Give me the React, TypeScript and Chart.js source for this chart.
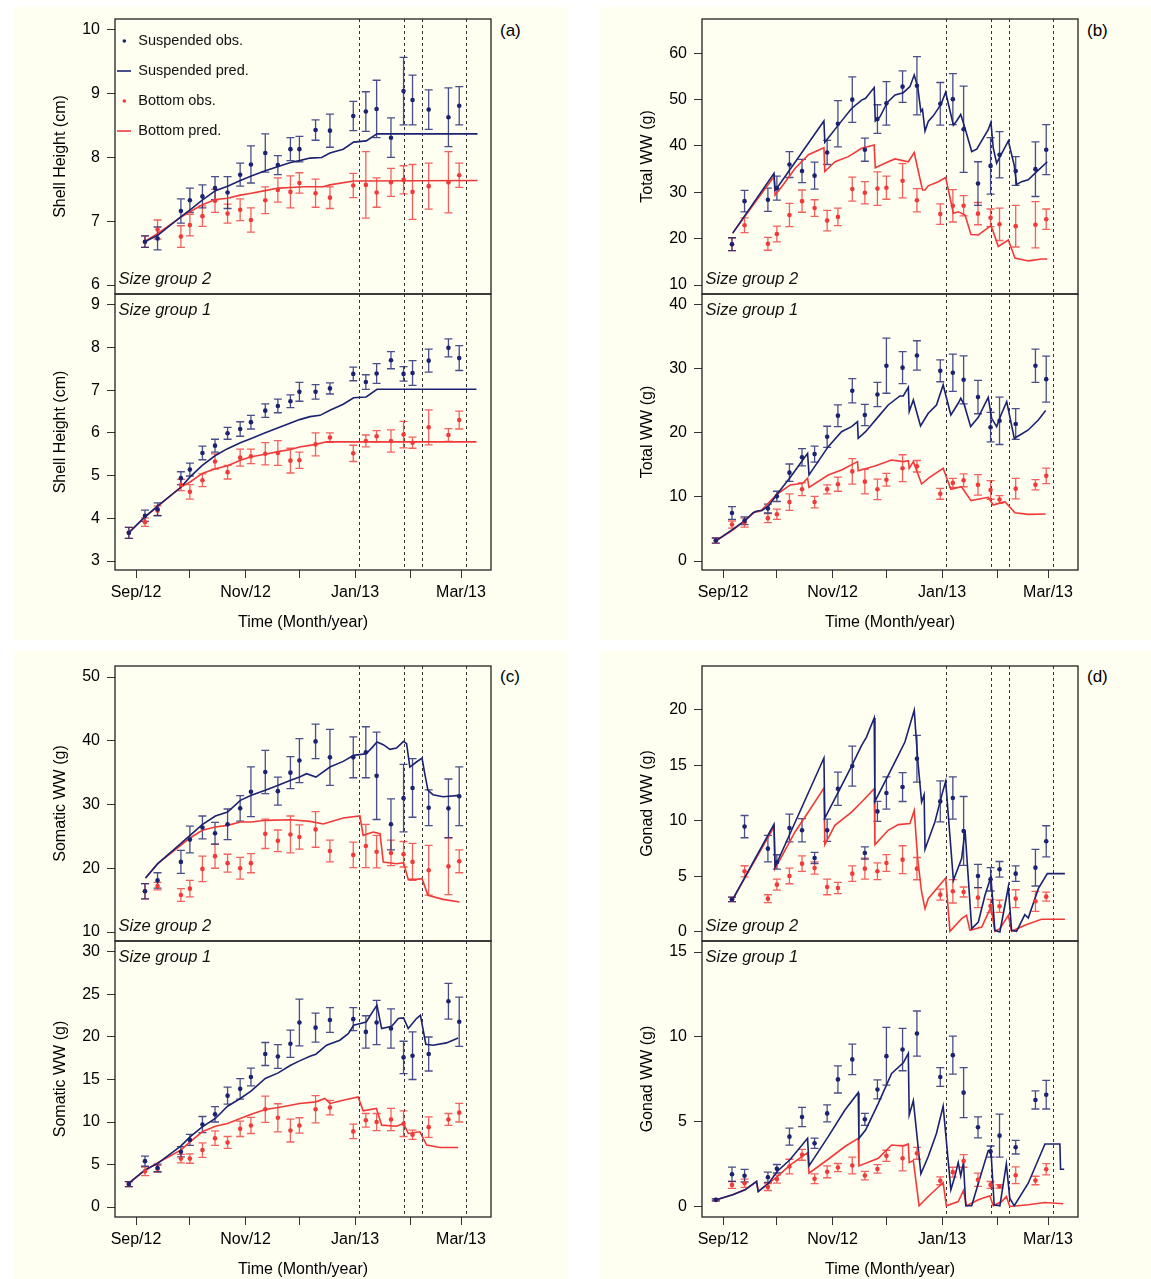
import React, { useEffect, useRef } from 'react';
import { Chart, registerables } from 'chart.js';
Chart.register(...registerables);

// ---------- data ----------
const sampleDays = [-4, 5, 12, 25, 30, 37, 44, 51, 58, 64, 72, 79, 86, 91, 100, 108, 121, 128, 134, 142, 149, 154, 163, 174, 180];
const sg2Days = sampleDays.slice(1);
const monthTicks = [0, 30, 61, 91, 122, 153, 181];
const monthLabels = ['Sep/12', '', 'Nov/12', '', 'Jan/13', '', 'Mar/13'];
const eventDays = [124, 149, 159, 184];

// (a) shell height
const shellSG2Ticks = [6, 7, 8, 9, 10];
const shellSG2Susp = [6.68, 6.73, 7.16, 7.33, 7.39, 7.52, 7.45, 7.73, 7.89, 8.07, 7.88, 8.13, 8.13, 8.43, 8.42, 8.65, 8.72, 8.76, 8.31, 9.04, 8.9, 8.75, 8.63, 8.81];
const shellSG2SuspErr = [0.09, 0.18, 0.19, 0.19, 0.18, 0.18, 0.25, 0.18, 0.29, 0.3, 0.15, 0.18, 0.2, 0.16, 0.26, 0.23, 0.31, 0.45, 0.31, 0.53, 0.39, 0.31, 0.46, 0.3];
const shellSG2Bot = [6.68, 6.87, 6.76, 6.94, 7.08, 7.32, 7.12, 7.18, 7.02, 7.33, 7.49, 7.46, 7.6, 7.44, 7.37, 7.56, 7.57, 7.45, 7.61, 7.65, 7.46, 7.55, 7.61, 7.72];
const shellSG2BotErr = [0.09, 0.15, 0.17, 0.17, 0.16, 0.18, 0.15, 0.17, 0.19, 0.21, 0.19, 0.25, 0.16, 0.22, 0.17, 0.19, 0.52, 0.23, 0.22, 0.22, 0.43, 0.36, 0.48, 0.19];
const shellSG2SuspPred = [[4.8, 6.68], [12.1, 6.78], [24.9, 7.07], [30.1, 7.18], [36.9, 7.33], [44.2, 7.48], [51, 7.55], [58.1, 7.64], [64.2, 7.71], [72, 7.79], [79.2, 7.86], [86.1, 7.92], [91.1, 7.95], [96.9, 7.99], [103.4, 8.0], [108, 8.07], [115.4, 8.13], [121.2, 8.24], [128.2, 8.26], [134.2, 8.37], [190.2, 8.37]];
const shellSG2BotPred = [[4.8, 6.68], [12.1, 6.81], [24.9, 7.06], [30.1, 7.15], [36.9, 7.26], [44.2, 7.34], [51, 7.36], [58.1, 7.41], [64.2, 7.44], [72, 7.48], [79.2, 7.52], [86.1, 7.53], [93.1, 7.54], [104.3, 7.54], [108, 7.57], [121.2, 7.63], [190.2, 7.64]];

const shellSG1Ticks = [3, 4, 5, 6, 7, 8, 9];
const shellSG1Susp = [3.66, 4.06, 4.21, 4.94, 5.14, 5.53, 5.7, 5.99, 6.09, 6.25, 6.52, 6.63, 6.74, 6.96, 6.96, 7.04, 7.38, 7.19, 7.39, 7.7, 7.38, 7.4, 7.69, 7.99, 7.75];
const shellSG1SuspErr = [0.13, 0.13, 0.15, 0.15, 0.15, 0.16, 0.15, 0.14, 0.17, 0.16, 0.16, 0.16, 0.15, 0.22, 0.17, 0.13, 0.16, 0.17, 0.23, 0.2, 0.17, 0.29, 0.27, 0.21, 0.29];
const shellSG1Bot = [3.66, 3.91, 4.18, 4.78, 4.62, 4.89, 5.33, 5.08, 5.42, 5.45, 5.51, 5.53, 5.35, 5.36, 5.73, 5.89, 5.52, 5.81, 5.92, 5.81, 5.96, 5.77, 6.13, 5.95, 6.3];
const shellSG1BotErr = [0.13, 0.1, 0.11, 0.13, 0.17, 0.15, 0.18, 0.16, 0.2, 0.17, 0.26, 0.29, 0.29, 0.19, 0.27, 0.11, 0.19, 0.14, 0.13, 0.26, 0.31, 0.13, 0.41, 0.15, 0.21];
const shellSG1SuspPred = [[-4.1, 3.66], [4.8, 4.03], [12.1, 4.29], [24.9, 4.72], [30.1, 4.97], [36.9, 5.24], [44.2, 5.47], [51, 5.63], [58.1, 5.77], [64.2, 5.87], [72, 6.0], [79.2, 6.12], [86.1, 6.23], [91.1, 6.31], [96.9, 6.38], [102.5, 6.41], [108, 6.53], [115.4, 6.67], [121.2, 6.82], [128.2, 6.84], [134.2, 7.02], [189.6, 7.02]];
const shellSG1BotPred = [[-4.1, 3.66], [4.8, 4.02], [12.1, 4.28], [24.9, 4.73], [30.1, 4.85], [36.9, 5.05], [44.2, 5.16], [51, 5.23], [58.1, 5.36], [64.2, 5.44], [72, 5.5], [79.2, 5.56], [86.1, 5.61], [91.1, 5.67], [100.2, 5.73], [106.1, 5.79], [189.6, 5.79]];

// (b) total wet weight
const totalSG2Ticks = [10, 20, 30, 40, 50, 60];
const totalSG2Susp = [18.8, 28.1, 28.4, 30.9, 36.0, 34.6, 33.6, 38.6, 44.8, 50.0, 39.2, 45.8, 49.2, 52.8, 53.0, 49.1, 50.1, 43.6, 31.9, 35.7, 38.1, 34.6, 35.0, 39.2];
const totalSG2SuspErr = [1.4, 2.3, 2.5, 2.6, 2.8, 2.5, 2.9, 2.6, 5.0, 4.9, 2.5, 3.1, 4.7, 3.4, 6.3, 4.6, 5.5, 9.3, 4.7, 6.1, 5.0, 3.1, 5.9, 5.4];
const totalSG2Bot = [18.8, 22.9, 18.9, 21.0, 25.1, 28.1, 26.6, 23.9, 24.7, 30.7, 29.9, 30.8, 31.0, 32.5, 28.3, 25.3, 27.1, 27.1, 25.4, 24.5, 23.1, 22.7, 23.0, 24.2];
const totalSG2BotErr = [1.4, 1.6, 1.4, 1.7, 2.5, 2.4, 1.8, 2.2, 1.9, 2.6, 2.4, 3.6, 2.5, 3.7, 2.5, 2.2, 3.5, 2.2, 2.4, 1.9, 3.5, 4.5, 5.0, 2.2];
const totalSG2SuspPred = [[5.4, 21.2], [28.4, 34.1], [29.0, 30.5], [30.2, 31.0], [56.2, 45.4], [56.7, 40.8], [64.2, 44.5], [71.6, 48.1], [77.2, 49.9], [79.4, 50.3], [84.2, 52.6], [84.8, 45.4], [87.4, 46.3], [91.5, 49.4], [95.8, 51.0], [100.4, 51.5], [104.1, 52.8], [106.5, 55.3], [108.4, 52.8], [110.2, 47.4], [111.1, 47.9], [112.5, 43.2], [114.3, 45.3], [117.1, 46.5], [119.9, 48.1], [121.6, 49.2], [124.0, 51.6], [128.3, 44.5], [130.1, 45.4], [132.4, 46.8], [134.8, 43.8], [138.5, 38.8], [141.3, 39.3], [147.7, 43.5], [149.2, 45.1], [150.5, 39.6], [152.4, 36.3], [154.8, 38.1], [158.9, 41.1], [162.2, 35.8], [163.5, 31.7], [166.3, 32.3], [170.0, 32.7], [173.7, 34.1], [180.6, 36.6]];
const totalSG2BotPred = [[5.4, 21.2], [28.4, 33.4], [29.0, 29.4], [32.7, 31.2], [40.2, 35.2], [47.6, 38.1], [56.2, 39.6], [56.7, 34.5], [62.4, 36.6], [69.8, 37.7], [77.2, 39.5], [84.2, 40.2], [84.8, 35.3], [92.0, 36.6], [95.8, 37.2], [103.2, 36.6], [106.5, 38.6], [108.4, 35.2], [111.1, 30.5], [112.5, 30.5], [114.3, 31.4], [119.9, 32.3], [124.0, 33.2], [128.3, 25.5], [131.0, 25.8], [134.8, 25.1], [138.1, 20.9], [142.2, 20.8], [149.2, 22.8], [150.5, 21.5], [153.3, 18.3], [158.9, 19.7], [162.6, 15.8], [170.0, 15.2], [177.5, 15.6], [180.6, 15.6]];

const totalSG1Ticks = [0, 10, 20, 30, 40];
const totalSG1Susp = [3.2, 7.5, 6.3, 8.2, 10.1, 13.8, 16.2, 16.7, 19.4, 22.7, 26.6, 22.8, 26.0, 30.5, 30.2, 32.1, 29.7, 29.4, 28.3, 25.6, 20.9, 21.9, 21.4, 30.5, 28.4];
const totalSG1SuspErr = [0.4, 1.0, 0.6, 0.7, 0.8, 1.35, 1.35, 1.25, 1.65, 1.7, 1.9, 1.65, 1.9, 4.3, 2.5, 2.3, 1.7, 2.9, 3.75, 2.6, 2.3, 3.7, 2.4, 2.6, 3.6];
const totalSG1Bot = [3.2, 5.7, 6.0, 6.7, 7.3, 9.2, 11.2, 9.2, 11.2, 12.0, 14.0, 12.4, 11.2, 12.7, 14.5, 14.8, 10.5, 12.2, 12.6, 11.9, 11.1, 9.6, 11.3, 11.9, 13.3];
const totalSG1BotErr = [0.4, 0.55, 0.7, 0.7, 0.8, 1.3, 1.0, 0.9, 0.7, 1.1, 2.0, 1.9, 1.6, 1.0, 2.1, 0.9, 0.85, 0.7, 1.0, 1.6, 1.45, 0.6, 1.6, 0.8, 1.2];
const totalSG1SuspPred = [[-3.7, 3.2], [5.4, 4.95], [12.2, 6.3], [16.8, 7.55], [19.6, 7.86], [21.5, 7.86], [25.4, 8.6], [30.2, 10.47], [37.5, 13.07], [44.4, 15.78], [47.1, 16.8], [47.9, 13.44], [58.6, 17.86], [66.0, 20.2], [71.6, 20.99], [74.9, 21.77], [75.3, 19.17], [79.4, 20.2], [86.5, 22.55], [92.0, 24.37], [98.5, 25.78], [100.4, 25.78], [103.2, 27.14], [103.7, 23.33], [106.0, 25.16], [110.0, 21.09], [114.3, 23.07], [118.9, 24.37], [122.6, 27.5], [126.9, 22.81], [131.0, 24.64], [132.4, 25.42], [134.4, 24.38], [137.9, 20.99], [142.2, 22.45], [147.7, 25.57], [149.6, 22.29], [152.4, 20.99], [154.8, 22.81], [158.0, 24.9], [162.2, 19.17], [165.4, 19.69], [170.0, 20.47], [175.6, 22.03], [179.7, 23.49]];
const totalSG1BotPred = [[-3.7, 3.2], [5.4, 4.84], [12.2, 6.3], [17.8, 7.71], [19.6, 7.71], [21.5, 7.97], [30.2, 10.47], [37.5, 11.88], [44.4, 12.14], [47.1, 12.92], [47.9, 11.51], [58.6, 13.44], [66.0, 14.22], [74.9, 15.52], [75.3, 14.11], [84.6, 14.84], [93.8, 15.78], [100.4, 15.52], [103.2, 15.68], [103.7, 14.48], [106.0, 15.52], [110.6, 12.03], [114.3, 12.92], [122.6, 14.48], [126.9, 11.2], [132.8, 11.61], [138.1, 9.43], [147.7, 9.95], [150.5, 8.75], [157.0, 9.27], [162.6, 7.55], [170.0, 7.29], [179.7, 7.34]];

// (c) somatic wet weight
const somaticSG2Ticks = [10, 20, 30, 40, 50];
const somaticSG2Susp = [16.4, 18.1, 21.0, 24.5, 26.4, 25.5, 26.9, 29.4, 32.0, 35.1, 32.1, 35.0, 36.9, 39.9, 37.4, 37.4, 38.2, 34.5, 26.9, 31.0, 32.6, 29.5, 29.4, 31.3];
const somaticSG2SuspErr = [1.2, 1.2, 1.8, 2.1, 1.8, 1.7, 2.4, 2.0, 3.9, 3.4, 2.2, 2.5, 3.45, 2.7, 4.4, 3.2, 4.0, 6.85, 4.0, 5.3, 4.6, 2.8, 4.6, 4.6];
const somaticSG2Bot = [16.4, 17.2, 15.8, 16.8, 19.9, 21.9, 20.8, 20.0, 20.8, 25.4, 24.3, 25.3, 24.9, 26.1, 22.7, 22.1, 23.5, 22.6, 22.4, 22.2, 21.0, 19.7, 20.3, 21.1];
const somaticSG2BotErr = [1.2, 0.6, 1.0, 1.3, 2.0, 1.9, 1.4, 1.7, 1.5, 2.3, 1.7, 2.9, 1.9, 2.8, 1.7, 2.0, 3.4, 2.55, 2.0, 2.0, 2.9, 3.9, 4.45, 1.8];
const somaticSG2SuspPred = [[5.3, 18.47], [12.1, 20.72], [24.9, 23.86], [30.1, 25.16], [36.9, 26.84], [44.2, 28.2], [51.0, 28.82], [58.1, 30.65], [64.2, 31.44], [72.0, 32.22], [79.2, 33.01], [86.1, 33.79], [91.1, 34.31], [95.0, 34.84], [100.2, 34.31], [108.0, 35.88], [115.4, 36.77], [121.2, 37.71], [128.2, 37.97], [132.1, 39.12], [134.2, 39.8], [137.7, 39.39], [141.4, 38.65], [145.1, 38.86], [149.0, 39.91], [150.7, 39.54], [152.5, 35.88], [156.2, 36.67], [159.3, 37.29], [160.8, 34.84], [162.6, 32.22], [165.4, 31.54], [171.0, 31.23], [180.2, 31.44]];
const somaticSG2BotPred = [[5.3, 18.47], [12.1, 20.72], [24.9, 23.59], [30.1, 24.75], [36.9, 25.95], [44.2, 26.47], [51.0, 26.73], [58.1, 27.25], [64.2, 27.25], [72.0, 27.52], [86.1, 27.62], [96.9, 27.36], [104.3, 26.94], [115.4, 27.88], [124.7, 28.2], [126.5, 25.16], [132.1, 25.69], [135.9, 25.42], [137.7, 20.98], [145.1, 20.72], [149.0, 20.88], [151.6, 18.26], [156.2, 18.26], [159.3, 18.37], [162.6, 15.75], [171.0, 15.12], [180.2, 14.71]];

const somaticSG1Ticks = [0, 5, 10, 15, 20, 25, 30];
const somaticSG1Susp = [2.7, 5.4, 4.6, 6.5, 7.9, 9.7, 10.9, 13.1, 13.9, 15.3, 18.0, 17.7, 19.2, 21.7, 21.1, 22.0, 22.1, 20.6, 21.7, 21.0, 17.6, 17.8, 18.0, 24.2, 21.8];
const somaticSG1SuspErr = [0.3, 0.6, 0.45, 0.6, 0.65, 0.95, 0.9, 1.0, 1.2, 1.05, 1.35, 1.4, 1.6, 2.75, 1.7, 1.45, 1.35, 1.9, 2.6, 2.3, 1.9, 2.8, 2.0, 2.1, 2.9];
const somaticSG1Bot = [2.7, 4.2, 4.5, 5.7, 5.7, 6.7, 8.1, 7.6, 9.2, 9.6, 11.5, 10.5, 9.0, 9.6, 11.5, 11.7, 8.9, 10.2, 10.0, 10.3, 9.8, 8.5, 9.4, 10.3, 11.1];
const somaticSG1BotErr = [0.3, 0.5, 0.4, 0.5, 0.55, 0.85, 0.85, 0.7, 0.9, 0.95, 1.55, 1.65, 1.35, 0.9, 1.6, 0.85, 0.85, 0.8, 1.0, 1.3, 1.5, 0.55, 1.2, 0.7, 1.1];
const somaticSG1SuspPred = [[-4.1, 2.78], [4.8, 4.34], [12.1, 5.13], [24.9, 7.16], [30.1, 8.26], [36.9, 9.44], [44.2, 10.42], [51.0, 11.86], [58.1, 12.77], [64.2, 13.67], [72.0, 15.12], [79.2, 15.78], [86.1, 16.68], [91.1, 17.19], [96.9, 17.74], [100.2, 17.98], [106.1, 19.03], [113.5, 19.62], [118.2, 20.4], [121.2, 21.38], [128.2, 21.77], [132.1, 23.07], [134.2, 23.73], [136.8, 20.99], [142.4, 21.27], [146.1, 22.17], [149.0, 22.24], [151.6, 20.99], [156.2, 22.17], [158.4, 22.56], [161.4, 19.15], [165.4, 19.03], [172.9, 19.31], [179.4, 19.89]];
const somaticSG1BotPred = [[-4.1, 2.78], [4.8, 4.27], [12.1, 5.21], [24.9, 6.69], [30.1, 7.67], [36.9, 8.85], [44.2, 9.51], [51.0, 9.83], [58.1, 10.42], [64.2, 10.92], [72.0, 11.47], [79.2, 11.71], [86.1, 11.98], [91.1, 12.18], [100.2, 12.37], [105.2, 12.77], [108.0, 12.18], [115.4, 12.57], [123.7, 12.96], [126.5, 11.32], [133.9, 11.59], [136.8, 9.63], [145.1, 9.51], [149.0, 9.83], [151.6, 8.66], [158.1, 8.85], [161.9, 7.28], [169.3, 7.01], [179.4, 7.01]];

// (d) gonad wet weight
const gonadSG2Ticks = [0, 5, 10, 15, 20];
const gonadSG2Susp = [2.94, 9.48, 7.5, 6.3, 9.36, 9.15, 6.66, 9.15, 12.89, 14.93, 7.11, 10.85, 12.5, 13.04, 15.59, 11.75, 12.05, 9.09, 5.04, 4.74, 5.64, 5.25, 5.79, 8.16];
const gonadSG2SuspErr = [0.2, 1.0, 1.2, 0.65, 1.25, 1.05, 0.5, 1.0, 1.5, 1.8, 0.55, 0.9, 1.45, 1.3, 2.1, 1.85, 1.9, 3.1, 1.05, 1.05, 0.7, 0.7, 1.65, 1.4];
const gonadSG2Bot = [2.94, 5.46, 3.0, 4.26, 5.04, 6.15, 5.76, 4.05, 3.96, 5.25, 5.7, 5.46, 6.21, 6.51, 5.7, 3.36, 3.66, 3.6, 3.09, 2.34, 2.31, 3.0, 2.76, 3.18];
const gonadSG2BotErr = [0.2, 0.5, 0.35, 0.5, 0.7, 0.7, 0.55, 0.7, 0.5, 0.7, 0.95, 0.75, 0.75, 1.25, 1.0, 0.5, 1.05, 0.45, 0.9, 0.6, 0.55, 0.8, 0.9, 0.4];
const gonadSG2SuspPred = [[5.4, 2.94], [28.4, 9.69], [29.0, 5.85], [56.2, 15.65], [56.7, 10.25], [64.2, 12.59], [71.6, 14.93], [77.2, 16.79], [79.9, 17.54], [84.2, 19.25], [84.6, 11.75], [91.5, 13.94], [97.6, 15.89], [101.3, 17.09], [106.5, 19.94], [108.4, 15.59], [110.6, 11.69], [112.0, 12.35], [112.5, 7.44], [114.3, 8.25], [118.0, 9.9], [121.8, 12.29], [124.0, 13.55], [128.3, 4.65], [132.9, 6.6], [134.8, 9.15], [138.5, 0.3], [142.2, 0.9], [145.9, 3.3], [149.2, 4.95], [151.4, 0.15], [154.2, 0.0], [158.9, 4.05], [160.7, 0.15], [163.5, 0.06], [168.1, 1.56], [170.0, 1.26], [175.6, 3.9], [180.6, 5.25], [190.4, 5.25]];
const gonadSG2BotPred = [[5.4, 2.94], [28.4, 9.45], [29.0, 5.7], [40.1, 9.0], [47.5, 10.79], [56.2, 12.95], [56.7, 7.86], [62.3, 9.6], [71.6, 10.79], [77.2, 11.69], [84.2, 12.89], [84.6, 7.86], [92.0, 9.15], [97.6, 9.66], [104.1, 9.75], [106.5, 10.94], [108.4, 6.6], [110.6, 3.6], [112.5, 2.1], [114.3, 3.0], [124.0, 4.86], [126.4, 0.06], [132.9, 1.2], [135.6, 1.5], [137.5, 0.15], [144.1, 0.45], [149.2, 2.25], [151.4, 0.06], [154.2, 0.3], [158.9, 1.5], [160.7, 0.06], [168.1, 0.6], [177.4, 1.14], [190.4, 1.14]];

const gonadSG1Ticks = [0, 5, 10, 15];
const gonadSG1Susp = [0.41, 1.92, 1.83, 1.74, 2.24, 4.13, 5.29, 3.74, 5.5, 7.5, 8.68, 5.15, 6.91, 8.87, 9.26, 10.2, 7.64, 8.93, 6.72, 4.68, 3.25, 4.19, 3.51, 6.29, 6.6];
const gonadSG1SuspErr = [0.06, 0.42, 0.37, 0.3, 0.25, 0.5, 0.57, 0.3, 0.5, 0.8, 0.9, 0.35, 0.56, 1.7, 1.25, 1.33, 0.55, 1.12, 1.47, 0.62, 0.33, 1.27, 0.4, 0.53, 0.84];
const gonadSG1Bot = [0.41, 1.29, 1.39, 1.16, 1.63, 2.37, 3.06, 1.65, 2.06, 2.31, 2.43, 1.84, 2.23, 3.0, 2.86, 3.15, 1.53, 2.04, 2.7, 1.59, 1.29, 1.2, 1.86, 1.55, 2.21];
const gonadSG1BotErr = [0.06, 0.2, 0.24, 0.2, 0.24, 0.43, 0.32, 0.29, 0.35, 0.24, 0.49, 0.25, 0.25, 0.33, 0.75, 0.35, 0.23, 0.29, 0.37, 0.39, 0.2, 0.1, 0.49, 0.25, 0.33];
const gonadSG1SuspPred = [[-3.7, 0.41], [5.4, 0.71], [12.2, 1.0], [18.7, 1.49], [19.6, 0.9], [25.4, 1.39], [30.2, 2.08], [37.5, 2.8], [47.1, 4.03], [47.9, 2.41], [58.6, 4.13], [67.9, 5.7], [75.3, 6.72], [75.7, 4.03], [79.4, 4.52], [86.5, 6.09], [93.9, 7.85], [100.4, 8.48], [103.2, 9.03], [103.7, 5.41], [106.0, 6.25], [110.2, 1.94], [114.3, 2.96], [118.9, 4.33], [122.6, 5.93], [126.9, 1.0], [129.1, 1.78], [131.0, 2.61], [132.4, 1.82], [133.9, 2.61], [135.2, 0.06], [138.5, 0.06], [142.2, 1.39], [147.7, 3.31], [149.2, 3.35], [151.0, 0.12], [154.2, 0.06], [157.8, 2.53], [159.7, 0.51], [162.2, 0.06], [170.0, 1.39], [179.3, 3.7], [187.6, 3.7], [188.0, 2.21], [190.0, 2.21]];
const gonadSG1BotPred = [[-3.7, 0.41], [5.4, 0.71], [12.2, 1.0], [18.7, 1.49], [19.6, 0.9], [30.2, 1.78], [37.5, 2.47], [47.1, 3.19], [47.9, 1.98], [58.6, 2.8], [67.9, 3.55], [75.3, 4.03], [75.7, 2.41], [86.5, 2.86], [93.9, 3.64], [100.4, 3.58], [103.2, 3.7], [103.7, 2.61], [106.0, 2.72], [109.2, 0.06], [114.3, 0.61], [122.6, 1.43], [124.4, 0.06], [131.0, 0.31], [133.9, 0.96], [135.6, 0.06], [142.2, 0.41], [148.6, 0.65], [150.5, 0.06], [155.2, 0.31], [157.8, 0.61], [159.7, 0.02], [170.0, 0.12], [179.3, 0.25], [189.5, 0.18]];

// ---------- styles / layout ----------
const FONT = '"Liberation Sans", Arial, Helvetica, sans-serif';
const NAVY = '#1b2270';
const RED = '#f03a3a';
const NAVY_BAR = 'rgba(27,34,112,0.8)';
const RED_BAR = 'rgba(240,58,58,0.8)';
const CREAM = '#fefef1';
const X_MIN = -11.7;
const X_MAX = 197.7;
const AXIS_W = 75;
const PLOT_W = 376;
const PAD_T = 2;
const PAD_B = 2;
const PAD_R = 4;
const X_AXIS_H = 65;

type SubCfg = {
  left: number; top: number; h: number; showX: boolean; legend: boolean;
  group: string;
  days: number[]; susp: number[]; suspErr: number[]; bot: number[]; botErr: number[];
  suspPred: number[][]; botPred: number[][];
  yMin: number; yMax: number; yTicks: number[]; yTitle: string;
};

const mk = (left: number, top: number, h: number, showX: boolean, legend: boolean, group: string, days: number[],
  susp: number[], suspErr: number[], bot: number[], botErr: number[], suspPred: number[][], botPred: number[][],
  yMin: number, yMax: number, yTicks: number[], yTitle: string): SubCfg =>
  ({ left, top, h, showX, legend, group, days, susp, suspErr, bot, botErr, suspPred, botPred, yMin, yMax, yTicks, yTitle });

const SUBPLOTS: SubCfg[] = [
  mk(115, 19, 275, false, true, 'Size group 2', sg2Days, shellSG2Susp, shellSG2SuspErr, shellSG2Bot, shellSG2BotErr, shellSG2SuspPred, shellSG2BotPred, 5.86, 10.17, shellSG2Ticks, 'Shell Height (cm)'),
  mk(115, 294, 276, true, false, 'Size group 1', sampleDays, shellSG1Susp, shellSG1SuspErr, shellSG1Bot, shellSG1BotErr, shellSG1SuspPred, shellSG1BotPred, 2.79, 9.25, shellSG1Ticks, 'Shell Height (cm)'),
  mk(702, 19, 275, false, false, 'Size group 2', sg2Days, totalSG2Susp, totalSG2SuspErr, totalSG2Bot, totalSG2BotErr, totalSG2SuspPred, totalSG2BotPred, 8.06, 67.4, totalSG2Ticks, 'Total WW (g)'),
  mk(702, 294, 276, true, false, 'Size group 1', sampleDays, totalSG1Susp, totalSG1SuspErr, totalSG1Bot, totalSG1BotErr, totalSG1SuspPred, totalSG1BotPred, -1.4, 41.7, totalSG1Ticks, 'Total WW (g)'),
  mk(115, 666, 275, false, false, 'Size group 2', sg2Days, somaticSG2Susp, somaticSG2SuspErr, somaticSG2Bot, somaticSG2BotErr, somaticSG2SuspPred, somaticSG2BotPred, 8.59, 51.73, somaticSG2Ticks, 'Somatic WW (g)'),
  mk(115, 941, 276, true, false, 'Size group 1', sampleDays, somaticSG1Susp, somaticSG1SuspErr, somaticSG1Bot, somaticSG1BotErr, somaticSG1SuspPred, somaticSG1BotPred, -1.17, 31.29, somaticSG1Ticks, 'Somatic WW (g)'),
  mk(702, 666, 275, false, false, 'Size group 2', sg2Days, gonadSG2Susp, gonadSG2SuspErr, gonadSG2Bot, gonadSG2BotErr, gonadSG2SuspPred, gonadSG2BotPred, -0.81, 23.93, gonadSG2Ticks, 'Gonad WW (g)'),
  mk(702, 941, 276, true, false, 'Size group 1', sampleDays, gonadSG1Susp, gonadSG1SuspErr, gonadSG1Bot, gonadSG1BotErr, gonadSG1SuspPred, gonadSG1BotPred, -0.6, 15.65, gonadSG1Ticks, 'Gonad WW (g)'),
];

const PANELS = [
  { label: '(a)', x: 13, y: 7, w: 555, h: 633, lx: 500, ly: 21 },
  { label: '(b)', x: 600, y: 7, w: 551, h: 633, lx: 1087, ly: 21 },
  { label: '(c)', x: 13, y: 651, w: 555, h: 628, lx: 500, ly: 667 },
  { label: '(d)', x: 600, y: 651, w: 551, h: 628, lx: 1087, ly: 667 },
];

function drawBars(ctx: CanvasRenderingContext2D, xs: any, ys: any, days: number[], vals: number[], errs: number[], color: string) {
  ctx.strokeStyle = color;
  ctx.lineWidth = 1.3;
  vals.forEach((v, i) => {
    const px = xs.getPixelForValue(days[i]);
    const pt = ys.getPixelForValue(v + errs[i]);
    const pb = ys.getPixelForValue(v - errs[i]);
    ctx.beginPath();
    ctx.moveTo(px, pt); ctx.lineTo(px, pb);
    ctx.moveTo(px - 4, pt); ctx.lineTo(px + 4, pt);
    ctx.moveTo(px - 4, pb); ctx.lineTo(px + 4, pb);
    ctx.stroke();
  });
}

function makeOverlay(cfg: SubCfg) {
  return {
    id: 'overlay',
    beforeDatasetsDraw(chart: any) {
      const { ctx, chartArea: ca, scales } = chart;
      const xs = scales.x, ys = scales.y;
      ctx.save();
      ctx.beginPath();
      ctx.rect(ca.left, ca.top, ca.right - ca.left, ca.bottom - ca.top);
      ctx.clip();
      ctx.setLineDash([3, 3]);
      ctx.strokeStyle = '#333';
      ctx.lineWidth = 1;
      eventDays.forEach((d) => {
        const px = Math.round(xs.getPixelForValue(d)) + 0.5;
        ctx.beginPath();
        ctx.moveTo(px, ca.top);
        ctx.lineTo(px, ca.bottom);
        ctx.stroke();
      });
      ctx.setLineDash([]);
      drawBars(ctx, xs, ys, cfg.days, cfg.bot, cfg.botErr, RED_BAR);
      drawBars(ctx, xs, ys, cfg.days, cfg.susp, cfg.suspErr, NAVY_BAR);
      ctx.restore();
    },
    afterDatasetsDraw(chart: any) {
      const { ctx, chartArea: ca } = chart;
      ctx.save();
      ctx.strokeStyle = '#222';
      ctx.lineWidth = 1.3;
      ctx.strokeRect(ca.left, ca.top, ca.right - ca.left, ca.bottom - ca.top);
      ctx.fillStyle = '#111';
      ctx.font = `italic 16.5px ${FONT}`;
      ctx.textAlign = 'left';
      ctx.textBaseline = 'middle';
      const gy = cfg.group === 'Size group 2' ? ca.bottom - 15 : ca.top + 16;
      ctx.fillText(cfg.group, ca.left + 3.5, gy);
      if (cfg.legend) {
        const items: [string, string, string][] = [
          ['Suspended obs.', 'point', NAVY],
          ['Suspended pred.', 'line', NAVY],
          ['Bottom obs.', 'point', RED],
          ['Bottom pred.', 'line', RED],
        ];
        ctx.font = `14.5px ${FONT}`;
        items.forEach(([txt, kind, col], i) => {
          const yy = ca.top + 22 + i * 30;
          if (kind === 'point') {
            ctx.fillStyle = col;
            ctx.beginPath();
            ctx.arc(ca.left + 9.3, yy, 1.8, 0, Math.PI * 2);
            ctx.fill();
          } else {
            ctx.strokeStyle = col;
            ctx.lineWidth = 1.6;
            ctx.beginPath();
            ctx.moveTo(ca.left + 2, yy);
            ctx.lineTo(ca.left + 16, yy);
            ctx.stroke();
          }
          ctx.fillStyle = '#111';
          ctx.fillText(txt, ca.left + 23.3, yy);
        });
      }
      ctx.restore();
    },
  };
}

function zeroPad(s: any) {
  s.paddingTop = 0;
  s.paddingBottom = 0;
  s.paddingLeft = 0;
  s.paddingRight = 0;
}

function Subplot({ cfg }: { cfg: SubCfg }) {
  const ref = useRef<HTMLCanvasElement | null>(null);
  const W = AXIS_W + PLOT_W + PAD_R;
  const H = PAD_T + cfg.h + PAD_B + (cfg.showX ? X_AXIS_H : 0);
  useEffect(() => {
    const canvas = ref.current;
    if (!canvas) return;
    const tickFont = { family: FONT, size: 16 };
    const chart = new Chart(canvas, {
      type: 'scatter',
      data: {
        datasets: [
          { label: 'Suspended obs.', data: cfg.days.map((d, i) => ({ x: d, y: cfg.susp[i] })), pointRadius: 2.3, pointBackgroundColor: NAVY, pointBorderWidth: 0, showLine: false },
          { label: 'Bottom obs.', data: cfg.days.map((d, i) => ({ x: d, y: cfg.bot[i] })), pointRadius: 2.3, pointBackgroundColor: RED, pointBorderWidth: 0, showLine: false },
          { label: 'Suspended pred.', data: cfg.suspPred.map(([x, y]) => ({ x, y })), showLine: true, borderColor: NAVY, borderWidth: 1.6, pointRadius: 0, tension: 0 },
          { label: 'Bottom pred.', data: cfg.botPred.map(([x, y]) => ({ x, y })), showLine: true, borderColor: RED, borderWidth: 1.6, pointRadius: 0, tension: 0 },
        ],
      } as any,
      options: {
        animation: false,
        responsive: false,
        maintainAspectRatio: false,
        devicePixelRatio: 1,
        events: [],
        layout: { padding: { top: PAD_T, bottom: PAD_B, left: 0, right: PAD_R }, autoPadding: false },
        plugins: { legend: { display: false }, tooltip: { enabled: false } },
        scales: {
          x: {
            type: 'linear',
            min: X_MIN,
            max: X_MAX,
            display: cfg.showX,
            position: 'bottom',
            afterFit: (s: any) => { if (cfg.showX) s.height = X_AXIS_H; zeroPad(s); },
            afterBuildTicks: (s: any) => { s.ticks = monthTicks.map((v) => ({ value: v })); },
            ticks: {
              autoSkip: false, maxRotation: 0, minRotation: 0, padding: 5, color: '#000', font: tickFont,
              callback: (_v: any, i: number) => monthLabels[i],
            },
            grid: { drawOnChartArea: false, drawTicks: true, tickLength: 8, color: '#333', lineWidth: 1 },
            border: { display: false },
            title: { display: true, text: 'Time (Month/year)', color: '#000', font: tickFont, padding: { top: 0, bottom: 2.4 } },
          },
          y: {
            type: 'linear',
            min: cfg.yMin,
            max: cfg.yMax,
            afterFit: (s: any) => { s.width = AXIS_W; zeroPad(s); },
            afterBuildTicks: (s: any) => { s.ticks = cfg.yTicks.map((v) => ({ value: v })); },
            ticks: { color: '#000', font: tickFont, padding: 7, callback: (v: any) => String(v) },
            grid: { drawOnChartArea: false, drawTicks: true, tickLength: 8, color: '#333', lineWidth: 1 },
            border: { display: false },
            title: { display: true, text: cfg.yTitle, color: '#000', font: tickFont, padding: { top: 11.4, bottom: 0 } },
          },
        },
      } as any,
      plugins: [makeOverlay(cfg)],
    });
    return () => chart.destroy();
  }, [cfg]);
  return (
    <canvas
      ref={ref}
      width={W}
      height={H}
      style={{ position: 'absolute', left: cfg.left - AXIS_W, top: cfg.top - PAD_T, width: W, height: H }}
    />
  );
}

export default function App() {
  return (
    <div style={{ position: 'absolute', left: 0, top: 0, width: 1151, height: 1279, background: '#ffffff', overflow: 'hidden' }}>
      {PANELS.map((p) => (
        <div key={p.label} style={{ position: 'absolute', left: p.x, top: p.y, width: p.w, height: p.h, background: CREAM }} />
      ))}
      {SUBPLOTS.map((c, i) => (
        <Subplot key={i} cfg={c} />
      ))}
      {PANELS.map((p) => (
        <div key={'l' + p.label} style={{ position: 'absolute', left: p.lx, top: p.ly, fontFamily: FONT, fontSize: 17, lineHeight: '20px', color: '#000' }}>
          {p.label}
        </div>
      ))}
    </div>
  );
}
